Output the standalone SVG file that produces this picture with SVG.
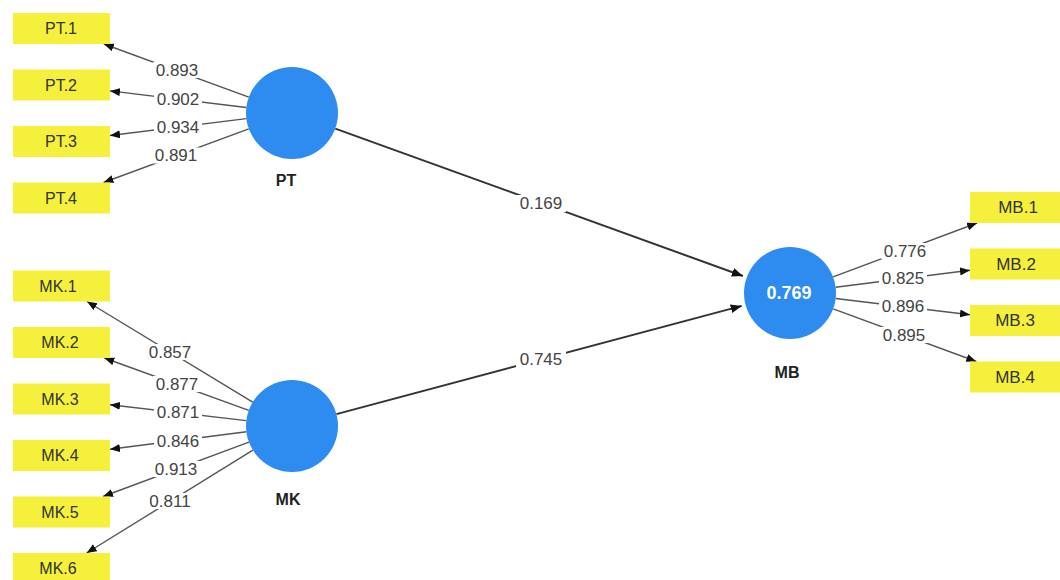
<svg xmlns="http://www.w3.org/2000/svg" width="1060" height="580" viewBox="0 0 1060 580">
<style>
.box{fill:#F4F03C}
.btxt{font-family:"Liberation Sans",Arial,sans-serif;font-size:16px;fill:#333;text-anchor:middle;dominant-baseline:central}
.mbtxt{font-size:17px}
.lv{fill:#2E8CF0}
.lvtxt{font-family:"Liberation Sans",Arial,sans-serif;font-size:16px;font-weight:bold;fill:#222;text-anchor:middle;dominant-baseline:central}
.r2{font-family:"Liberation Sans",Arial,sans-serif;font-size:18px;font-weight:bold;fill:#fff;text-anchor:middle;dominant-baseline:central}
.ld{stroke:#555;stroke-width:1.4;fill:none;marker-end:url(#ah)}
.st{stroke:#333;stroke-width:2;fill:none;marker-end:url(#ah2)}
.lbg{fill:#fff}
.num{font-family:"Liberation Sans",Arial,sans-serif;font-size:17px;fill:#444;text-anchor:middle;dominant-baseline:central}
</style>
<defs>
<marker id="ah" markerUnits="userSpaceOnUse" markerWidth="11" markerHeight="9" refX="10" refY="4" orient="auto"><path d="M0,0 L10,4 L0,8 z" fill="#111"/></marker>
<marker id="ah2" markerUnits="userSpaceOnUse" markerWidth="12" markerHeight="10" refX="11" refY="4.5" orient="auto"><path d="M0,0 L11,4.5 L0,9 z" fill="#111"/></marker>
</defs>
<rect width="1060" height="580" fill="#fff"/>
<g id="connectors">
<line class="ld" x1="248.8" y1="97.2" x2="103.8" y2="44"/>
<line class="ld" x1="246.3" y1="107.5" x2="110" y2="90.9"/>
<line class="ld" x1="246.4" y1="118.6" x2="110" y2="135.5"/>
<line class="ld" x1="248.8" y1="128.9" x2="103.5" y2="182.5"/>
<line class="ld" x1="252.7" y1="402.1" x2="87" y2="301.5"/>
<line class="ld" x1="248.8" y1="410.3" x2="104.3" y2="358"/>
<line class="ld" x1="246.3" y1="420.6" x2="110" y2="404.7"/>
<line class="ld" x1="246.4" y1="431.8" x2="110" y2="449.3"/>
<line class="ld" x1="248.9" y1="442.1" x2="103" y2="496.5"/>
<line class="ld" x1="252.9" y1="450.2" x2="86.6" y2="553"/>
<line class="ld" x1="833.1" y1="276.9" x2="977.1" y2="223"/>
<line class="ld" x1="835.6" y1="287.2" x2="970" y2="270.2"/>
<line class="ld" x1="835.7" y1="298.5" x2="970" y2="314.7"/>
<line class="ld" x1="833.2" y1="308.9" x2="976.3" y2="361.5"/>
<line class="st" x1="335.3" y1="128.6" x2="742.9" y2="276"/>
<line class="st" x1="336.4" y1="414.1" x2="741.7" y2="305.9"/>
<g id="labels">
<rect class="lbg" x="153" y="62" width="48" height="16"/><text class="num" x="177" y="70">0.893</text>
<rect class="lbg" x="154" y="91" width="48" height="16"/><text class="num" x="178" y="99">0.902</text>
<rect class="lbg" x="154" y="119.5" width="48" height="16"/><text class="num" x="178" y="127.5">0.934</text>
<rect class="lbg" x="152" y="147.5" width="48" height="16"/><text class="num" x="176" y="155.5">0.891</text>
<rect class="lbg" x="146" y="344" width="48" height="16"/><text class="num" x="170" y="352">0.857</text>
<rect class="lbg" x="153" y="376" width="48" height="16"/><text class="num" x="177" y="384">0.877</text>
<rect class="lbg" x="154" y="404.5" width="48" height="16"/><text class="num" x="178" y="412.5">0.871</text>
<rect class="lbg" x="154" y="433" width="48" height="16"/><text class="num" x="178" y="441">0.846</text>
<rect class="lbg" x="152" y="461" width="48" height="16"/><text class="num" x="176" y="469">0.913</text>
<rect class="lbg" x="146" y="493" width="48" height="16"/><text class="num" x="170" y="501">0.811</text>
<rect class="lbg" x="881" y="243" width="48" height="16"/><text class="num" x="905" y="251">0.776</text>
<rect class="lbg" x="879" y="270.5" width="48" height="16"/><text class="num" x="903" y="278.5">0.825</text>
<rect class="lbg" x="879" y="298.5" width="48" height="16"/><text class="num" x="903" y="306.5">0.896</text>
<rect class="lbg" x="880" y="327" width="48" height="16"/><text class="num" x="904" y="335">0.895</text>
<rect class="lbg" x="516" y="195" width="50" height="17"/><text class="num" x="541" y="203.5">0.169</text>
<rect class="lbg" x="516" y="351" width="50" height="17"/><text class="num" x="541" y="359.5">0.745</text>
</g>
</g>
<g id="PT"><circle class="lv" cx="292" cy="113" r="46"/><text class="lvtxt" x="286" y="180">PT</text></g>
<g id="MK"><circle class="lv" cx="292" cy="426" r="46"/><text class="lvtxt" x="288" y="499">MK</text></g>
<g id="MB"><circle class="lv" cx="790" cy="293" r="46"/><text class="r2" x="789" y="293">0.769</text><text class="lvtxt" x="787" y="372">MB</text></g>
<g id="PT1"><rect class="box" x="13" y="13" width="97" height="31"/><text class="btxt" x="61" y="28.5">PT.1</text></g>
<g id="PT2"><rect class="box" x="13" y="69.5" width="97" height="31"/><text class="btxt" x="61" y="85">PT.2</text></g>
<g id="PT3"><rect class="box" x="13" y="126" width="97" height="31"/><text class="btxt" x="61" y="141.5">PT.3</text></g>
<g id="PT4"><rect class="box" x="13" y="182.5" width="97" height="31"/><text class="btxt" x="61" y="198">PT.4</text></g>
<g id="MK1"><rect class="box" x="13" y="270.5" width="97" height="31"/><text class="btxt" x="58" y="286">MK.1</text></g>
<g id="MK2"><rect class="box" x="13" y="327" width="97" height="31"/><text class="btxt" x="60" y="342.5">MK.2</text></g>
<g id="MK3"><rect class="box" x="13" y="383.5" width="97" height="31"/><text class="btxt" x="60" y="399">MK.3</text></g>
<g id="MK4"><rect class="box" x="13" y="440" width="97" height="31"/><text class="btxt" x="60" y="455.5">MK.4</text></g>
<g id="MK5"><rect class="box" x="13" y="496.5" width="97" height="31"/><text class="btxt" x="60" y="512">MK.5</text></g>
<g id="MK6"><rect class="box" x="13" y="553" width="97" height="31"/><text class="btxt" x="58" y="568.5">MK.6</text></g>
<g id="MB1"><rect class="box" x="970" y="192" width="97" height="31"/><text class="btxt mbtxt" x="1018" y="207.5">MB.1</text></g>
<g id="MB2"><rect class="box" x="970" y="248.5" width="97" height="31"/><text class="btxt mbtxt" x="1016" y="264">MB.2</text></g>
<g id="MB3"><rect class="box" x="970" y="305" width="97" height="31"/><text class="btxt mbtxt" x="1015" y="320.5">MB.3</text></g>
<g id="MB4"><rect class="box" x="970" y="361.5" width="97" height="31"/><text class="btxt mbtxt" x="1015" y="377">MB.4</text></g>
</svg>
